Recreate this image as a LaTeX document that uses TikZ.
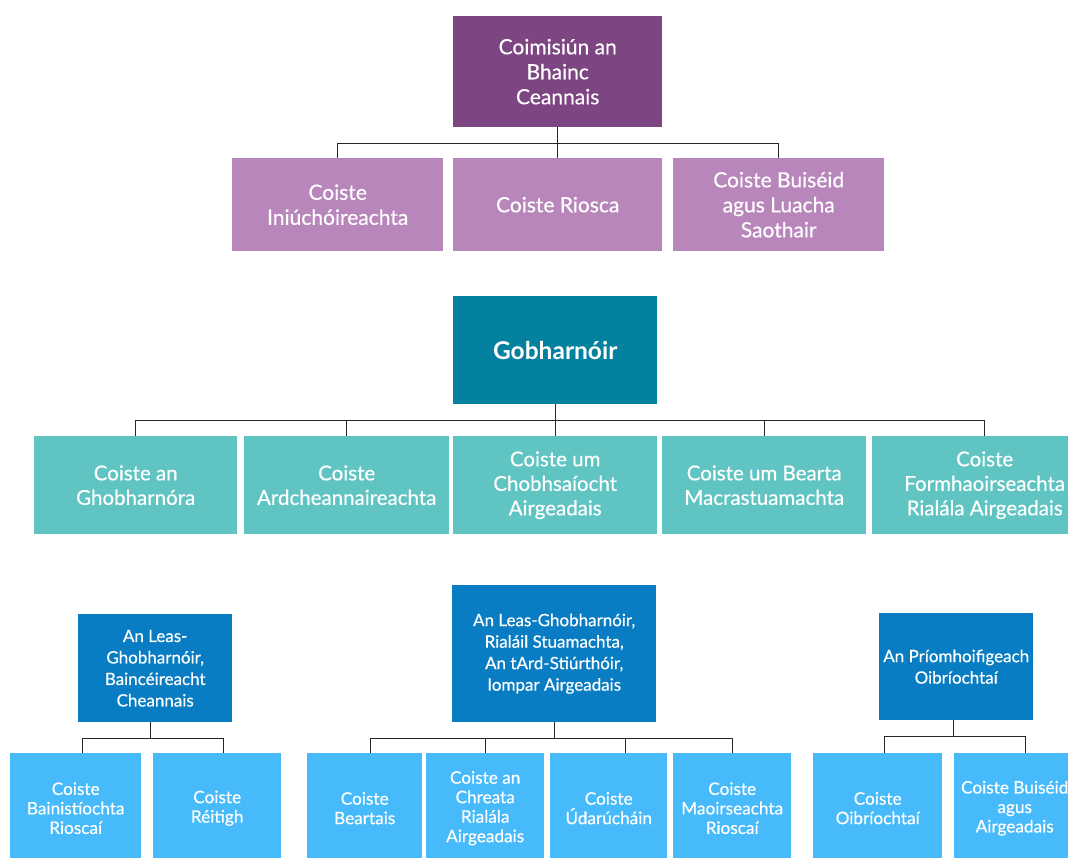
\documentclass[tikz,border=0pt]{standalone}
\usepackage{fontspec}
\setmainfont{Lato}[UprightFeatures={FakeBold=0.4}]
\definecolor{boardpurple}{HTML}{7D4581}
\definecolor{cttpurple}{HTML}{B886BB}
\definecolor{govblue}{HTML}{03819F}
\definecolor{cttteal}{HTML}{60C5C2}
\definecolor{dirblue}{HTML}{097DC3}
\definecolor{cttblue}{HTML}{46BAFA}
\tikzset{
    blk/.style={rectangle, anchor=north west, inner sep=0pt, align=center, text=white},
    board/.style={blk, fill=boardpurple, font=\fontsize{21}{25}\selectfont},
    bctt/.style={blk, fill=cttpurple, font=\fontsize{21}{25}\selectfont},
    gov/.style={blk, fill=govblue, font=\fontsize{24.5}{28}\selectfont\bfseries},
    gctt/.style={blk, fill=cttteal, font=\fontsize{20.5}{24.5}\selectfont},
    dir/.style={blk, fill=dirblue, font=\fontsize{17}{21.5}\selectfont},
    dctt/.style={blk, fill=cttblue, font=\fontsize{17.2}{19.5}\selectfont},
    link/.style={draw=black!85, line width=1.1pt}
}

\begin{document}
\begin{tikzpicture}[x=1pt, y=-1pt]
    \useasboundingbox (0, 0) rectangle (1068, 858);
    % Coimisiún
    \node[board, minimum width=209, minimum height=111](comm)at(453, 16){Coimisiún an\\Bhainc\\Ceannais};
    \node[bctt, minimum width=211, minimum height=93](iniu)at(232, 158){Coiste\\Iniúchóireachta};
    \node[bctt, minimum width=209, minimum height=93](riosca)at(453, 158){Coiste Riosca};
    \node[bctt, minimum width=211, minimum height=93](buis)at(673, 158){Coiste Buiséid\\agus Luacha\\Saothair};
    \foreach \c in {iniu, riosca, buis}
        \draw[link](comm.south)--++(0, 16)-|(\c.north);
    % Gobharnóir
    \node[gov, minimum width=204, minimum height=108](gobh)at(453, 296){Gobharnóir};
    \node[gctt, minimum width=203, minimum height=98](cgob)at(34, 436){Coiste an\\Ghobharnóra};
    \node[gctt, minimum width=205, minimum height=98](card)at(244, 436){Coiste\\Ardcheannaireachta};
    \node[gctt, minimum width=204, minimum height=98](cchob)at(453, 436){Coiste um\\Chobhsaíocht\\Airgeadais};
    \node[gctt, minimum width=204, minimum height=98](cmacr)at(662, 436){Coiste um Bearta\\Macrastuamachta};
    \node[gctt, minimum width=225, minimum height=98](cform)at(872, 436){Coiste\\Formhaoirseachta\\Rialála Airgeadais};
    \foreach \c in {cgob, card, cchob, cmacr, cform}
        \draw[link](gobh.south)--++(0, 16)-|(\c.north);
    % stiúrthóirí
    \node[dir, minimum width=154, minimum height=108](dgbank)at(78, 614){An Leas-\\Ghobharnóir,\\Baincéireacht\\Cheannais};
    \node[dir, minimum width=204, minimum height=137](dgreg)at(452, 585){An Leas-Ghobharnóir,\\Rialáil Stuamachta,\\An tArd-Stiúrthóir,\\Iompar Airgeadais};
    \node[dir, minimum width=154, minimum height=107](coo)at(879, 613){An Príomhoifigeach\\Oibríochtaí};
    \node[dctt, minimum width=131, minimum height=110](crisk)at(10, 753){Coiste\\Bainistíochta\\Rioscaí};
    \node[dctt, minimum width=128, minimum height=110](cres)at(153, 753){Coiste\\Réitigh};
    \node[dctt, minimum width=115, minimum height=110](cpol)at(307, 753){Coiste\\Beartais};
    \node[dctt, minimum width=118, minimum height=110](cframe)at(426, 753){Coiste an\\Chreata\\Rialála\\Airgeadais};
    \node[dctt, minimum width=117, minimum height=110](cauth)at(550, 753){Coiste\\Údarúcháin};
    \node[dctt, minimum width=118, minimum height=110](crmon)at(673, 753){Coiste\\Maoirseachta\\Rioscaí};
    \node[dctt, minimum width=129, minimum height=110](cops)at(813, 753){Coiste\\Oibríochtaí};
    \node[dctt, minimum width=121, minimum height=110](cfbud)at(954, 753){Coiste Buiséid\\agus\\Airgeadais};
    \draw[link]([xshift=-5]dgbank.south)--++(0, 16)-|([xshift=7]crisk.north);
    \draw[link]([xshift=-5]dgbank.south)--++(0, 16)-|([xshift=6]cres.north);
    \draw[link](dgreg.south)--++(0, 16)-|([xshift=6]cpol.north);
    \draw[link](dgreg.south)--++(0, 16)-|(cframe.north);
    \draw[link](dgreg.south)--++(0, 16)-|([xshift=17]cauth.north);
    \draw[link](dgreg.south)--++(0, 16)-|(crmon.north);
    \draw[link]([xshift=-3]coo.south)--++(0, 16)-|([xshift=7]cops.north);
    \draw[link]([xshift=-3]coo.south)--++(0, 16)-|([xshift=11]cfbud.north);
\end{tikzpicture}
\end{document}
